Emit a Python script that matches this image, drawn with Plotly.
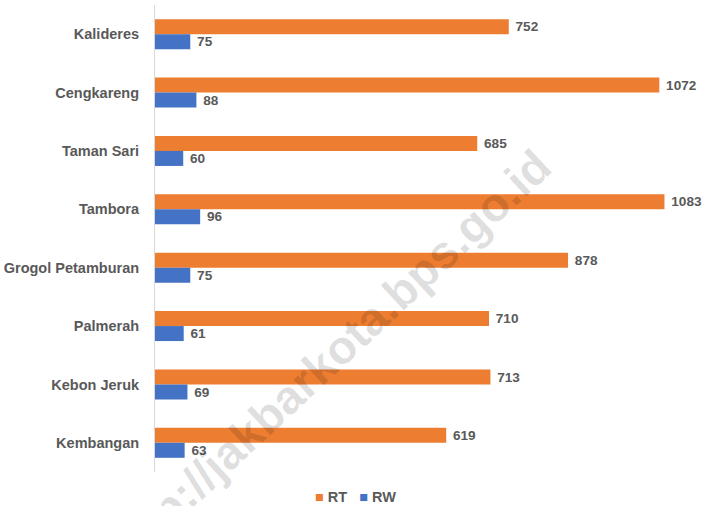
import plotly.graph_objects as go

# ── Data ─────────────────────────────────────────────────────────────────────
kecamatan = ["Kalideres", "Cengkareng", "Taman Sari", "Tambora",
             "Grogol Petamburan", "Palmerah", "Kebon Jeruk", "Kembangan"]
rt = [752, 1072, 685, 1083, 878, 710, 713, 619]
rw = [75, 88, 60, 96, 75, 61, 69, 63]

ORANGE = "#ED7D31"
BLUE = "#4472C4"
LABEL = "#595959"
AXIS = "#D9D9D9"
FONT = "Liberation Sans, Arial, sans-serif"

fig = go.Figure()
for name, vals, col in [("RT", rt, ORANGE), ("RW", rw, BLUE)]:
    fig.add_trace(go.Bar(
        y=kecamatan, x=vals, name=name, orientation="h",
        marker=dict(color=col, line=dict(width=0)),
        text=[f"\u00a0<b>{v}</b>" for v in vals],
        textposition="outside", cliponaxis=False,
        textfont=dict(family=FONT, size=14.5, color=LABEL),
        showlegend=False,
    ))

# watermark
fig.add_annotation(
    text="<b>http://jakbarkota.bps.go.id</b>",
    xref="paper", yref="paper", x=0.32, y=0.244,
    xanchor="center", yanchor="middle", showarrow=False,
    textangle=-43, font=dict(family=FONT, size=47, color="rgba(0,0,0,0.13)"),
)

# legend (Excel-style: small squares right next to the names)
fig.add_annotation(
    text=(f"<span style='color:{ORANGE}'>■</span>\u00a0<b>RT</b>\u00a0\u00a0 "
          f"<span style='color:{BLUE}'>■</span>\u00a0<b>RW</b>"),
    xref="paper", yref="paper", x=0.37, y=-0.053,
    xanchor="center", yanchor="middle", showarrow=False,
    font=dict(family=FONT, size=14.5, color=LABEL),
)

fig.update_layout(
    width=706, height=506,
    paper_bgcolor="white", plot_bgcolor="white",
    margin=dict(l=155, r=10, t=5, b=34),
    barmode="group", bargap=0.486, bargroupgap=0,
    font=dict(family=FONT, color=LABEL),
    showlegend=False,
    xaxis=dict(range=[0, 1150], visible=False, fixedrange=True, automargin=False),
    yaxis=dict(
        autorange="reversed", showline=True, linecolor=AXIS, linewidth=1,
        ticks="", showgrid=False, ticklabelstandoff=12, automargin=False,
        tickfont=dict(family=FONT, size=14.5, color=LABEL),
        tickvals=kecamatan, ticktext=[f"<b>{k}</b>" for k in kecamatan],
    ),
)

# page body has a default margin; drop it so the figure sits at the window corner
fig.write_html("out.html", config={"displayModeBar": False},
               post_script="document.body.style.margin='0';")
